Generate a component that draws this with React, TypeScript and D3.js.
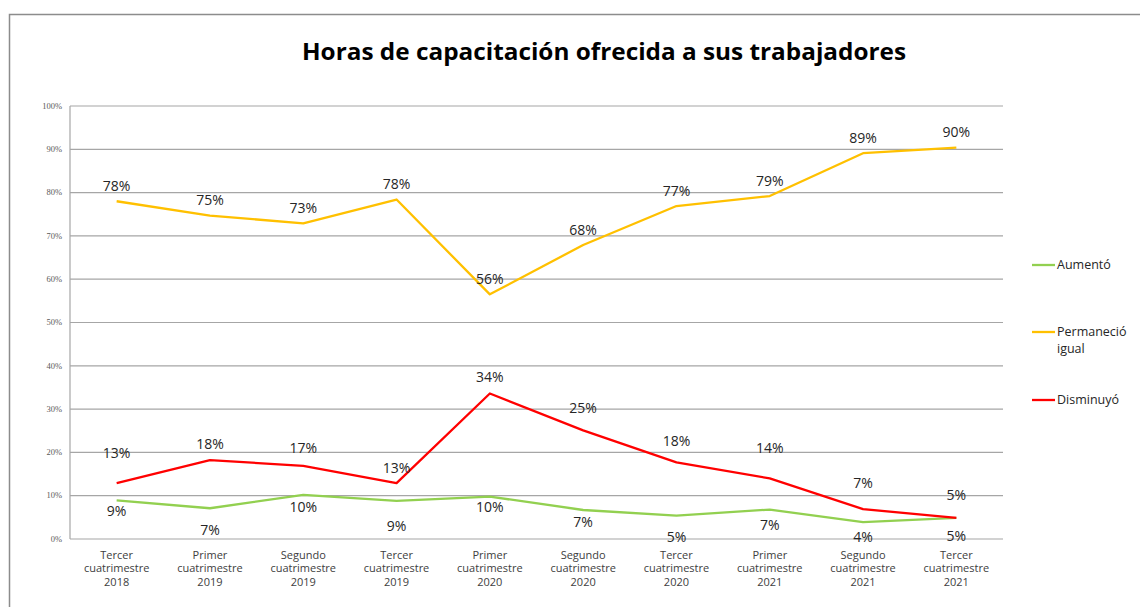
import React from 'react';
import * as d3 from 'd3';

const width = 1140;
const height = 607;
const margin = {top: 106, right: 137, bottom: 68, left: 70};
const green = '#92D050';
const yellow = '#FFC000';
const red = '#FF0000';
const font = '"Open Sans", Lato, sans-serif';

const categories = [
  ['Tercer', 'cuatrimestre', '2018'],
  ['Primer', 'cuatrimestre', '2019'],
  ['Segundo', 'cuatrimestre', '2019'],
  ['Tercer', 'cuatrimestre', '2019'],
  ['Primer', 'cuatrimestre', '2020'],
  ['Segundo', 'cuatrimestre', '2020'],
  ['Tercer', 'cuatrimestre', '2020'],
  ['Primer', 'cuatrimestre', '2021'],
  ['Segundo', 'cuatrimestre', '2021'],
  ['Tercer', 'cuatrimestre', '2021'],
];
const aumento = [8.9, 7.1, 10.2, 8.8, 9.8, 6.7, 5.4, 6.8, 3.9, 4.9];
const permanecio = [78.0, 74.7, 72.9, 78.4, 56.5, 67.9, 76.9, 79.2, 89.1, 90.4];
const disminuyo = [12.9, 18.2, 16.9, 12.9, 33.6, 25.1, 17.7, 14.0, 6.9, 4.9];
const aumentoLabels = ['9%', '7%', '10%', '9%', '10%', '7%', '5%', '7%', '4%', '5%'];
const permanecioLabels = ['78%', '75%', '73%', '78%', '56%', '68%', '77%', '79%', '89%', '90%'];
const disminuyoLabels = ['13%', '18%', '17%', '13%', '34%', '25%', '18%', '14%', '7%', '5%'];
const yTicks = [0, 10, 20, 30, 40, 50, 60, 70, 80, 90, 100];

// label nudges (px from the point) as placed in the original
const aumentoNudge = [11, 22, 12, 25, 11, 12, 21, 16, 15, 18];
const permanecioNudge = [-15, -15, -15, -15, -15, -15, -15, -15, -15, -15];
const disminuyoNudge = [-30, -16, -18, -15, -16, -22, -21, -30, -26, -23];

const series = [
  {name: 'Aumentó', values: aumento, labels: aumentoLabels, nudge: aumentoNudge, color: green},
  {name: 'Permaneció', values: permanecio, labels: permanecioLabels, nudge: permanecioNudge, color: yellow},
  {name: 'Disminuyó', values: disminuyo, labels: disminuyoLabels, nudge: disminuyoNudge, color: red},
];

const legend = [
  {lines: ['Aumentó'], color: green, y: 265},
  {lines: ['Permaneció', 'igual'], color: yellow, y: 332},
  {lines: ['Disminuyó'], color: red, y: 400},
];

export default function App() {
  const xScale = d3.scaleBand()
    .domain(categories.map((_, i) => String(i)))
    .range([margin.left, width - margin.right]);
  const yScale = d3.scaleLinear().domain([0, 100]).range([height - margin.bottom, margin.top]);
  const cx = (i: number) => (xScale(String(i)) as number) + xScale.bandwidth() / 2;

  const line = d3.line<number>().x((_, i) => cx(i)).y(d => yScale(d));

  return (
    <svg width={width} height={height} style={{position: 'absolute', left: 0, top: 0, background: '#fff'}}>
      <rect x={0} y={0} width={width} height={height} fill="#fff" />
      <path d={`M9.5,${height} V14.5 H${width}`} fill="none" stroke="#8c8c8c" strokeWidth={1.5} />

      <text x={604} y={60} textAnchor="middle" fontFamily={font} fontWeight="bold" fontSize={22.5}
        textLength={604} lengthAdjust="spacingAndGlyphs" fill="#000">
        Horas de capacitación ofrecida a sus trabajadores
      </text>

      {yTicks.map(t => (
        <g key={t}>
          <line x1={margin.left} x2={width - margin.right} y1={yScale(t)} y2={yScale(t)}
            stroke="#a6a6a6" strokeWidth={1.2} />
          <text x={62} y={yScale(t)} dy="0.32em" textAnchor="end"
            fontFamily='"Liberation Serif", serif' fontSize={8.5} fill="#595959">{t}%</text>
        </g>
      ))}
      <line x1={margin.left} x2={margin.left} y1={margin.top} y2={height - margin.bottom} stroke="#a6a6a6" strokeWidth={1.2} />

      {categories.map((c, i) => (
        <text key={i} x={cx(i)} y={555} textAnchor="middle" fontFamily={font} fontSize={11} fill="#404040">
          {c.map((l, j) => (
            <tspan key={j} x={cx(i)} dy={j === 0 ? '0.35em' : 13.6}>{l}</tspan>
          ))}
        </text>
      ))}

      {series.map(s => (
        <path key={s.name} d={line(s.values) || ''} fill="none" stroke={s.color} strokeWidth={2.3} strokeLinejoin="round" />
      ))}

      {series.map(s => s.values.map((v, i) => (
        <text key={s.name + i} x={cx(i)} y={yScale(v) + s.nudge[i]} dy="0.35em" textAnchor="middle"
          fontFamily={font} fontSize={14} fill="#262626">{s.labels[i]}</text>
      )))}

      {legend.map(l => (
        <g key={l.lines[0]}>
          <line x1={1032} x2={1055} y1={l.y} y2={l.y} stroke={l.color} strokeWidth={2.3} />
          <text x={1057} y={l.y} fontFamily={font} fontSize={12.5} fill="#262626">
            {l.lines.map((t, j) => (
              <tspan key={j} x={1057} dy={j === 0 ? '0.35em' : 16.5}>{t}</tspan>
            ))}
          </text>
        </g>
      ))}
    </svg>
  );
}
